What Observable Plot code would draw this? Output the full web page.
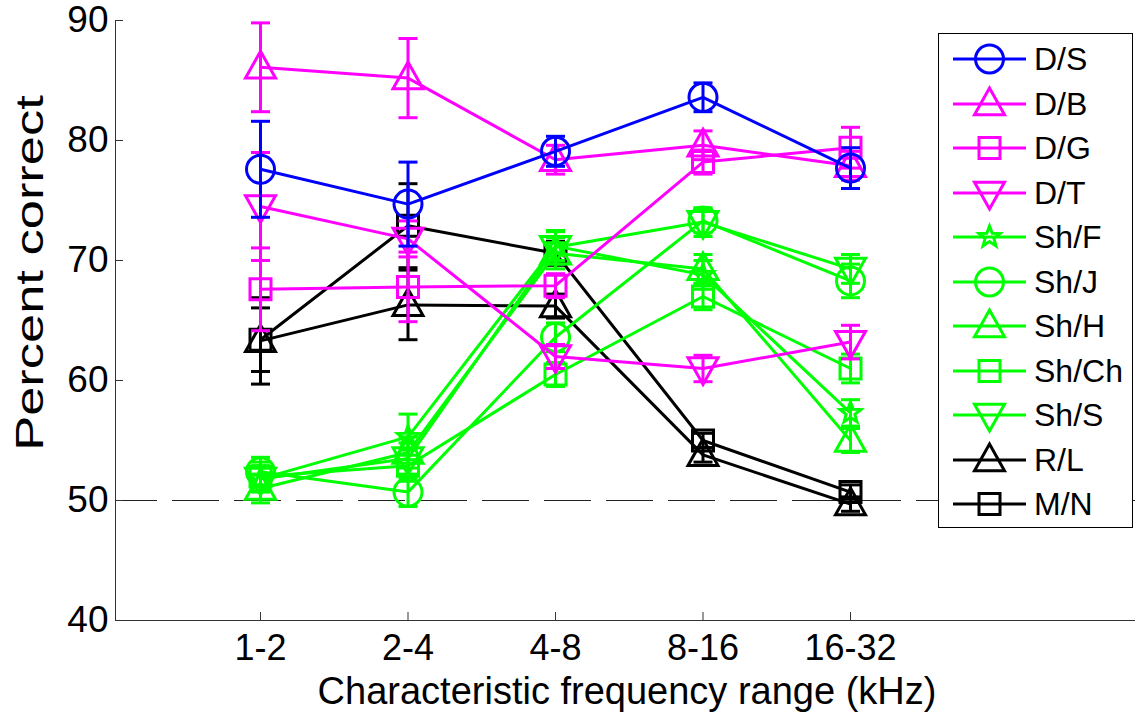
<!DOCTYPE html>
<html><head><meta charset="utf-8">
<script src="https://cdn.jsdelivr.net/npm/d3@7"></script>
<script src="https://cdn.jsdelivr.net/npm/@observablehq/plot@0.6"></script>
<style>
body{margin:0;background:#fff;}
#wrap{position:relative;width:1135px;height:717px;font-family:"Liberation Sans",Arial,sans-serif;overflow:hidden;}
#wrap > svg{position:absolute;left:0;top:0;}
.lbl{position:absolute;color:#000;white-space:nowrap;line-height:1;}
#legend{position:absolute;left:938px;top:33px;width:193px;height:493px;border:1.5px solid #000;background:#fff;}
#legend .row{position:absolute;left:0;height:44px;width:193px;}
#legend .row span{position:absolute;left:95px;top:6px;font-size:32px;line-height:32px;}
</style></head><body><div id="wrap"></div>
<script>
// ---- data ----
const categories = ["1-2", "2-4", "4-8", "8-16", "16-32"];
const seriesNames = ["D/S", "D/B", "D/G", "D/T", "Sh/F", "Sh/J", "Sh/H", "Sh/Ch", "Sh/S", "R/L", "M/N"];
const meanDS  = [77.6, 74.7, 79.1, 83.6, 77.7];
const errDS   = [4.0, 3.5, 1.25, 1.2, 1.7];
const meanDB  = [86.1, 85.2, 78.4, 79.6, 77.9];
const errDB   = [3.7, 3.3, 1.2, 1.2, 1.2];
const meanDG  = [67.6, 67.8, 67.9, 78.2, 79.4];
const errDG   = [3.45, 2.9, 1.0, 1.0, 1.7];
const meanDT  = [74.5, 71.8, 62.0, 61.0, 63.2];
const errDT   = [4.5, 1.5, 1.0, 1.1, 1.4];
const meanShF = [51.8, 55.3, 71.2, 68.8, 57.3];
const errShF  = [1.0, 1.9, 1.2, 1.2, 1.1];
const meanShJ = [52.4, 50.7, 63.6, 73.3, 68.3];
const errShJ  = [1.2, 1.2, 1.2, 1.0, 1.4];
const meanShH = [51.0, 54.0, 70.6, 69.3, 55.0];
const errShH  = [1.2, 1.3, 1.3, 1.2, 1.0];
const meanShCh= [52.0, 52.9, 60.5, 67.0, 61.0];
const errShCh = [1.2, 1.3, 1.0, 1.1, 1.2];
const meanShS = [51.8, 53.5, 71.1, 73.2, 69.3];
const errShS  = [1.1, 1.3, 1.4, 1.2, 1.2];
const meanRL  = [63.3, 66.3, 66.2, 53.8, 49.7];
const errRL   = [3.6, 2.9, 1.0, 0.6, 0.6];
const meanMN  = [63.4, 72.9, 70.6, 55.0, 50.7];
const errMN   = [2.65, 3.5, 1.0, 0.6, 0.6];
const yTicks  = [40, 50, 60, 70, 80, 90];
const chanceLevel = 50;

// ---- styles ----
const circle = {draw(c){ c.moveTo(14, 0); c.arc(0, 0, 14, 0, 2 * Math.PI); c.closePath(); }};
const triUp = {draw(c){ c.moveTo(0, -16); c.lineTo(15, 10.7); c.lineTo(-15, 10.7); c.closePath(); }};
const triDown = {draw(c){ c.moveTo(0, 16); c.lineTo(15, -10.7); c.lineTo(-15, -10.7); c.closePath(); }};
const square = {draw(c){ c.moveTo(-10.5, -10.5); c.lineTo(10.5, -10.5); c.lineTo(10.5, 10.5); c.lineTo(-10.5, 10.5); c.closePath(); }};
const star = {draw(c){
  for (let k = 0; k < 10; k++) {
    const r = k % 2 === 0 ? 11 : 4.6;
    const a = -Math.PI / 2 + k * Math.PI / 5;
    const px = r * Math.cos(a), py = r * Math.sin(a);
    if (k === 0) c.moveTo(px, py); else c.lineTo(px, py);
  }
  c.closePath();
}};
const cap = {draw(c){ c.moveTo(-9.5, 0); c.lineTo(9.5, 0); }};
const BLUE = "#0000ff", MAG = "#ff00ff", GRN = "#00ff00", BLK = "#000000";
const styleList = [
  [BLUE, circle], [MAG, triUp], [MAG, square], [MAG, triDown],
  [GRN, star], [GRN, circle], [GRN, triUp], [GRN, square], [GRN, triDown],
  [BLK, triUp], [BLK, square]
];
const meanList = [meanDS, meanDB, meanDG, meanDT, meanShF, meanShJ, meanShH, meanShCh, meanShS, meanRL, meanMN];
const errList  = [errDS, errDB, errDG, errDT, errShF, errShJ, errShH, errShCh, errShS, errRL, errMN];

const series = seriesNames.map((name, s) => ({
  name, color: styleList[s][0], symbol: styleList[s][1],
  rows: categories.map((c, i) => ({i: i + 1, v: meanList[s][i], e: errList[s][i]}))
}));

const W = 1135, H = 717;
const mL = 115, mR = 0, mT = 20, mB = 97;
// category positions: 1-2 at 260px, spacing 147.5px
const xDomain = [1 - 145 / 147.5, 1 + (W - mR - mL - 145) / 147.5];

const marks = [];
marks.push(Plot.ruleY([chanceLevel], {stroke: "#222", strokeWidth: 1, strokeDasharray: "47,15", strokeDashoffset: 5}));
// draw last series first so that D/S ends up on top
for (const s of series.slice().reverse()) {
  marks.push(Plot.ruleX(s.rows, {x: "i", y1: d => d.v - d.e, y2: d => d.v + d.e, stroke: s.color, strokeWidth: 3}));
  marks.push(Plot.dot(s.rows, {x: "i", y: d => d.v + d.e, symbol: cap, r: 1, fill: "none", stroke: s.color, strokeWidth: 3}));
  marks.push(Plot.dot(s.rows, {x: "i", y: d => d.v - d.e, symbol: cap, r: 1, fill: "none", stroke: s.color, strokeWidth: 3}));
  marks.push(Plot.line(s.rows, {x: "i", y: "v", stroke: s.color, strokeWidth: 3}));
  marks.push(Plot.dot(s.rows, {x: "i", y: "v", symbol: s.symbol, r: 1, fill: "none", stroke: s.color, strokeWidth: 3}));
}
marks.push(Plot.ruleY([yTicks[0]], {stroke: "#333", strokeWidth: 1}));
marks.push(Plot.ruleX([xDomain[0]], {stroke: "#333", strokeWidth: 1}));
marks.push(Plot.axisY({ticks: yTicks, tickSize: -8, tickPadding: 15, label: null, stroke: "#333", fill: "#000", fontSize: 37}));
marks.push(Plot.axisX({ticks: [1, 2, 3, 4, 5], tickFormat: i => categories[i - 1], tickSize: -8, tickPadding: 22, label: null, stroke: "#333", fill: "#000"}));

const chart = Plot.plot({
  width: W, height: H,
  marginLeft: mL, marginRight: mR, marginTop: mT, marginBottom: mB,
  x: {type: "linear", domain: xDomain},
  y: {domain: [yTicks[0], yTicks[yTicks.length - 1]]},
  style: {fontSize: "36px", fontFamily: "'Liberation Sans', Arial, sans-serif", background: "#fff", overflow: "visible"},
  marks
});
const wrap = document.getElementById("wrap");
wrap.appendChild(chart);

// axis titles
const xl = document.createElement("div");
xl.className = "lbl";
xl.textContent = "Characteristic frequency range (kHz)";
xl.style.cssText = "font-size:38px;left:627px;top:672px;transform:translateX(-50%);";
wrap.appendChild(xl);
const yl = document.createElement("div");
yl.className = "lbl";
yl.textContent = "Percent correct";
yl.style.cssText = "font-size:38px;left:30px;top:273px;transform:translate(-50%,-50%) rotate(-90deg) scaleX(1.38);";
wrap.appendChild(yl);

// legend
const lg = document.createElement("div");
lg.id = "legend";
wrap.appendChild(lg);
series.forEach((s, k) => {
  const row = document.createElement("div");
  row.className = "row";
  row.style.top = (3 + k * 44.5) + "px";
  const svg = d3.create("svg").attr("width", 92).attr("height", 44).style("position", "absolute").style("left", "0px").style("top", "0px");
  svg.append("line").attr("x1", 14).attr("x2", 87).attr("y1", 22).attr("y2", 22).attr("stroke", s.color).attr("stroke-width", 3);
  const p = d3.path(); s.symbol.draw(p, 0);
  svg.append("path").attr("d", p.toString()).attr("transform", "translate(50.5,22)").attr("fill", "none").attr("stroke", s.color).attr("stroke-width", 3);
  row.appendChild(svg.node());
  const t = document.createElement("span");
  t.textContent = s.name;
  row.appendChild(t);
  lg.appendChild(row);
});
</script></body></html>
